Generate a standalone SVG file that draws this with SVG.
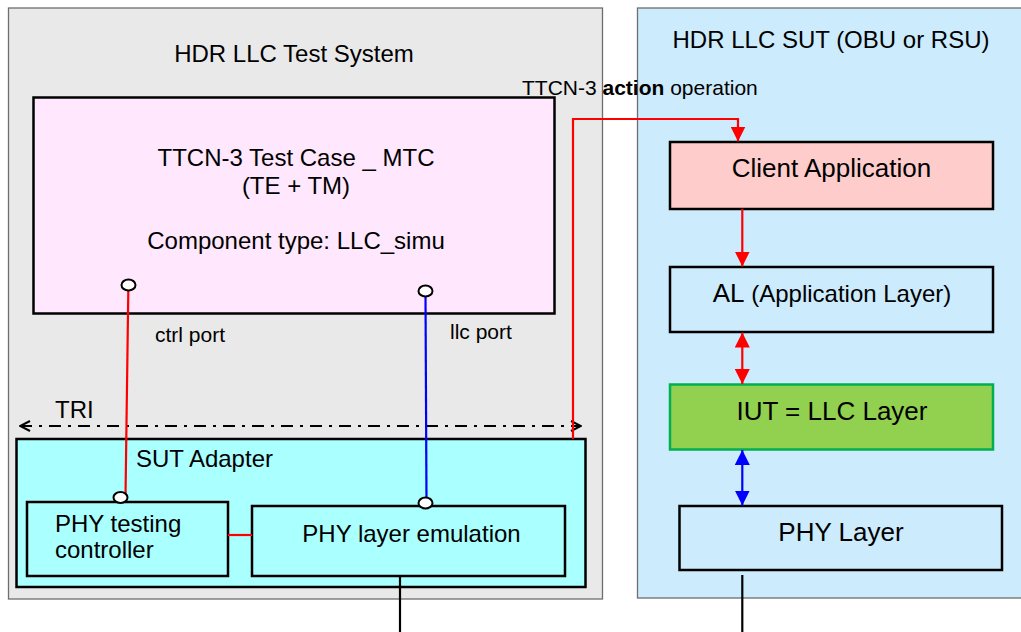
<svg xmlns="http://www.w3.org/2000/svg" width="1021" height="632" viewBox="0 0 1021 632">
<style>
text{font-family:"Liberation Sans",Arial,sans-serif;fill:#000}
.t24{font-size:24px}
.t26{font-size:26px}
.t21{font-size:21px}
.box{stroke:#000;stroke-width:2.5}
.panel{stroke:#6e6e6e;stroke-width:1.3}
.red{stroke:#ff0000;stroke-width:2.2;fill:none}
.blue{stroke:#0000ff;stroke-width:2.2;fill:none}
.blk{stroke:#000;stroke-width:2.2;fill:none}
.port{fill:#fff;stroke:#000;stroke-width:2}
</style>
<defs>
<marker id="ar" viewBox="0 0 15 15" refX="15" refY="7.5" markerWidth="15" markerHeight="15" markerUnits="userSpaceOnUse" orient="auto-start-reverse"><path d="M0,0 L15,7.5 L0,15 Z" fill="#ff0000"/></marker>
<marker id="ab" viewBox="0 0 15 15" refX="15" refY="7.5" markerWidth="15" markerHeight="15" markerUnits="userSpaceOnUse" orient="auto-start-reverse"><path d="M0,0 L15,7.5 L0,15 Z" fill="#0000ff"/></marker>
<marker id="ao" viewBox="0 0 12 12" refX="11" refY="6" markerWidth="12" markerHeight="12" markerUnits="userSpaceOnUse" orient="auto-start-reverse"><path d="M1,1 L11,6 L1,11" fill="none" stroke="#000" stroke-width="2"/></marker>
</defs>
<rect width="1021" height="632" fill="#fff"/>
<g id="test-system">
<rect class="panel" x="8.5" y="8" width="594" height="591" fill="#e9e9e9"/>
<text class="t24" x="294" y="62" text-anchor="middle">HDR LLC Test System</text>
</g>
<g id="sut">
<rect class="panel" x="637.5" y="8" width="390" height="590" fill="#ccebfd"/>
<text class="t24" x="831" y="48" text-anchor="middle">HDR LLC SUT (OBU or RSU)</text>
</g>
<g id="mtc">
<rect class="box" x="33.5" y="97.5" width="521" height="216" fill="#ffe8fd"/>
<text class="t24" x="296" y="166" text-anchor="middle">TTCN-3 Test Case _ MTC</text>
<text class="t24" x="296" y="194" text-anchor="middle">(TE + TM)</text>
<text class="t24" x="296" y="249" text-anchor="middle">Component type: LLC_simu</text>
</g>
<g id="labels">
<text class="t21" x="155" y="342">ctrl port</text>
<text class="t21" x="450" y="339">llc port</text>
<text class="t24" x="55" y="418">TRI</text>
<text class="t21" x="522" y="95">TTCN-3 <tspan font-weight="bold">action</tspan> operation</text>
</g>
<g id="sut-adapter">
<rect class="box" x="16.5" y="439" width="569" height="148" fill="#aaffff"/>
<text class="t24" x="136" y="467">SUT Adapter</text>
</g>
<g id="phy-ctrl">
<rect class="box" x="27" y="502" width="201" height="74" fill="#aaffff"/>
<text class="t24" x="55" y="532">PHY testing</text>
<text class="t24" x="55" y="558">controller</text>
</g>
<g id="phy-emu">
<rect class="box" x="252" y="506" width="313" height="70" fill="#aaffff"/>
<text class="t24" x="411.5" y="542" text-anchor="middle">PHY layer emulation</text>
</g>
<g id="client-app">
<rect class="box" x="670" y="142" width="323" height="67" fill="#ffcccc"/>
<text class="t26" x="831.5" y="177" text-anchor="middle">Client Application</text>
</g>
<g id="al">
<rect class="box" x="670" y="267" width="323" height="65" fill="#ccebfd"/>
<text x="832" y="302" text-anchor="middle"><tspan font-size="26">AL</tspan><tspan font-size="24"> (Application Layer)</tspan></text>
</g>
<g id="iut">
<rect x="670" y="384.5" width="323" height="65" fill="#92d050" stroke="#00b050" stroke-width="2.5"/>
<text class="t26" x="832" y="420" text-anchor="middle">IUT = LLC Layer</text>
</g>
<g id="phy-layer">
<rect class="box" x="679.5" y="506" width="322.5" height="64" fill="#ccebfd"/>
<text class="t26" x="841" y="541" text-anchor="middle">PHY Layer</text>
</g>
<g id="connectors">
<path class="blk" d="M20,426 H581" stroke-dasharray="12 7 3 7" stroke-width="2.5" marker-start="url(#ao)" marker-end="url(#ao)"/>
<path class="red" d="M573,439 V119 H738 V141.5" marker-end="url(#ar)"/>
<path class="red" d="M128.3,291 L125.5,497"/>
<path class="blue" d="M425.5,296 L426.5,503"/>
<path class="red" d="M228,535 H252"/>
<path class="blk" d="M400,576 V632"/>
<path class="red" d="M742.3,209 V266.5" marker-end="url(#ar)"/>
<path class="red" d="M742.3,332.5 V384" marker-start="url(#ar)" marker-end="url(#ar)"/>
<path class="blue" d="M742.3,450 V505.5" marker-start="url(#ab)" marker-end="url(#ab)"/>
<path class="blk" d="M742.3,575 V632"/>
</g>
<g id="ports">
<ellipse class="port" cx="128.5" cy="285" rx="7" ry="5.5"/>
<ellipse class="port" cx="425.5" cy="291" rx="7" ry="5.5"/>
<ellipse class="port" cx="120.5" cy="497.5" rx="7" ry="5.5"/>
<ellipse class="port" cx="425.5" cy="503" rx="7" ry="5.5"/>
</g>
</svg>
